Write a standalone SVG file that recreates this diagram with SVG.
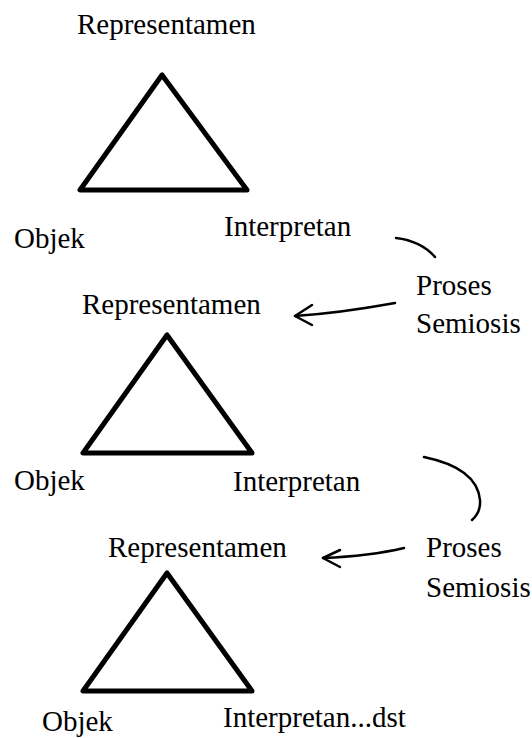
<svg xmlns="http://www.w3.org/2000/svg" width="532" height="738" viewBox="0 0 532 738">
<style>
text{font-family:"Liberation Serif","Times New Roman",serif;font-size:29px;fill:#000}
.tri{fill:none;stroke:#000;stroke-width:5;stroke-linejoin:round}
.con{fill:none;stroke:#000;stroke-width:2.5;stroke-linecap:round;stroke-linejoin:round}
</style>
<rect width="532" height="738" fill="#fff"/>
<g id="sign1">
<polygon class="tri" points="162,75 80,190 247,190"/>
<text x="77" y="34">Representamen</text>
<text x="14" y="248">Objek</text>
<text x="224" y="236">Interpretan</text>
</g>
<g id="sign2">
<polygon class="tri" points="167,335 83,453 252,453"/>
<text x="82" y="314">Representamen</text>
<text x="14" y="490">Objek</text>
<text x="233" y="491">Interpretan</text>
</g>
<g id="sign3">
<polygon class="tri" points="167,573 83,691 252,691"/>
<text x="108" y="557">Representamen</text>
<text x="42" y="731">Objek</text>
<text x="223" y="727">Interpretan...dst</text>
</g>
<g id="semiosis1">
<text x="416" y="295">Proses</text>
<text x="416" y="333">Semiosis</text>
</g>
<g id="semiosis2">
<text x="426" y="557">Proses</text>
<text x="426" y="597">Semiosis</text>
</g>
<g id="connectors">
<path class="con" d="M396,238 Q421,241 435,257"/>
<path class="con" d="M395,303 Q340,313 295,316"/>
<path class="con" d="M312,305 L295,316 L312,325"/>
<path class="con" d="M424,457 Q477,468 480,500 Q481,512 472,520"/>
<path class="con" d="M404,548 Q370,556 323,558"/>
<path class="con" d="M340,550 L323,558 L340,567"/>
</g>
</svg>
